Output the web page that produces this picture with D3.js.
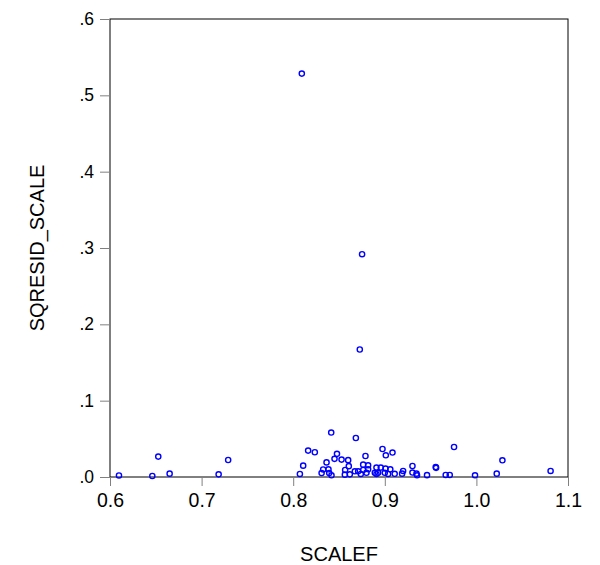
<!DOCTYPE html>
<html>
<head>
<meta charset="utf-8">
<script src="https://cdn.jsdelivr.net/npm/d3@7"></script>
<style>
  html, body { margin: 0; padding: 0; background: #fff; }
  svg { display: block; }
  text { font-family: Arial, "Liberation Sans", sans-serif; fill: #000; }
</style>
</head>
<body>
<svg id="chart" width="600" height="565"></svg>
<script>
// Fitted scale factor (x) and squared scaled residual (y) for each observation
const scalef = [
  0.6098, 0.6462, 0.6527, 0.6651, 0.7186, 0.7290,
  0.8073, 0.8109, 0.8094, 0.8163, 0.8236,
  0.8310, 0.8327, 0.8364, 0.8385, 0.8393, 0.8415, 0.8418,
  0.8451, 0.8478, 0.8528, 0.8567, 0.8564, 0.8600, 0.8607, 0.8618,
  0.8673, 0.8684, 0.8709, 0.8727, 0.8738, 0.8752, 0.8764, 0.8764, 0.8789,
  0.8800, 0.8818, 0.8818, 0.8891, 0.8909, 0.8909, 0.8927, 0.8956, 0.8975,
  0.9000, 0.9008, 0.9011, 0.9036, 0.9060, 0.9084, 0.9108,
  0.9189, 0.9200, 0.9302, 0.9302, 0.9346, 0.9352, 0.9461, 0.9556, 0.9560,
  0.9665, 0.9709, 0.9756, 0.9985, 1.0222, 1.0284, 1.0810
];
const sqresidScale = [
  0.0020, 0.0013, 0.0267, 0.0044, 0.0035, 0.0223,
  0.0040, 0.0149, 0.5285, 0.0346, 0.0324,
  0.0052, 0.0099, 0.0191, 0.0101, 0.0052, 0.0582, 0.0022,
  0.0238, 0.0303, 0.0228, 0.0092, 0.0031, 0.0221, 0.0142, 0.0035,
  0.0075, 0.0511, 0.0075, 0.1670, 0.0040, 0.2919, 0.0162, 0.0092, 0.0275,
  0.0055, 0.0153, 0.0101, 0.0055, 0.0123, 0.0040, 0.0055, 0.0123, 0.0367,
  0.0055, 0.0110, 0.0284, 0.0040, 0.0101, 0.0320, 0.0042,
  0.0044, 0.0079, 0.0144, 0.0058, 0.0044, 0.0022, 0.0024, 0.0131, 0.0120,
  0.0026, 0.0026, 0.0393, 0.0022, 0.0044, 0.0219, 0.0079
];
const xTicks = [0.6, 0.7, 0.8, 0.9, 1.0, 1.1];
const yTicks = [0.0, 0.1, 0.2, 0.3, 0.4, 0.5, 0.6];
const xTitle = "SCALEF";
const yTitle = "SQRESID_SCALE";

const points = scalef.map((v, i) => ({ x: v, y: sqresidScale[i] }));

const svg = d3.select("#chart");
const plot = { left: 110, right: 568, top: 19, bottom: 477 };

const x = d3.scaleLinear().domain([0.6, 1.1]).range([plot.left, plot.right]);
const y = d3.scaleLinear().domain([0, 0.6]).range([plot.bottom, plot.top]);

// Plot frame
svg.append("rect")
  .attr("x", plot.left).attr("y", plot.top)
  .attr("width", plot.right - plot.left).attr("height", plot.bottom - plot.top)
  .attr("fill", "none").attr("stroke", "#000").attr("stroke-width", 1);

// X axis
const xAxis = svg.append("g")
  .attr("transform", `translate(0,${plot.bottom})`)
  .call(d3.axisBottom(x).tickValues(xTicks).tickFormat(d3.format(".1f"))
        .tickSize(9).tickPadding(7));
xAxis.select(".domain").remove();
xAxis.selectAll(".tick line").attr("stroke", "#808080");
xAxis.selectAll(".tick text")
  .attr("font-size", 19.5).attr("font-family", "Arial, 'Liberation Sans', sans-serif")
  .attr("fill", "#000");

// Y axis: labels drop the leading zero
const yFmt = v => d3.format(".1f")(v).replace(/^0/, "");
const yAxis = svg.append("g")
  .attr("transform", `translate(${plot.left},0)`)
  .call(d3.axisLeft(y).tickValues(yTicks).tickFormat(yFmt)
        .tickSize(10).tickPadding(6));
yAxis.select(".domain").remove();
yAxis.selectAll(".tick line").attr("stroke", "#808080");
yAxis.selectAll(".tick text")
  .attr("font-size", 17.5).attr("font-family", "Arial, 'Liberation Sans', sans-serif")
  .attr("fill", "#000");

// Axis titles
svg.append("text")
  .attr("x", (plot.left + plot.right) / 2).attr("y", 561)
  .attr("text-anchor", "middle").attr("font-size", 20)
  .text(xTitle);

svg.append("text")
  .attr("transform", `translate(44,${(plot.top + plot.bottom) / 2}) rotate(-90)`)
  .attr("text-anchor", "middle").attr("font-size", 20)
  .text(yTitle);

// Scatter markers
svg.append("g")
  .selectAll("circle")
  .data(points)
  .join("circle")
  .attr("cx", d => x(d.x))
  .attr("cy", d => y(d.y))
  .attr("r", 2.6)
  .attr("fill", "none")
  .attr("stroke", "#0000ff")
  .attr("stroke-width", 1.4);
</script>
</body>
</html>
